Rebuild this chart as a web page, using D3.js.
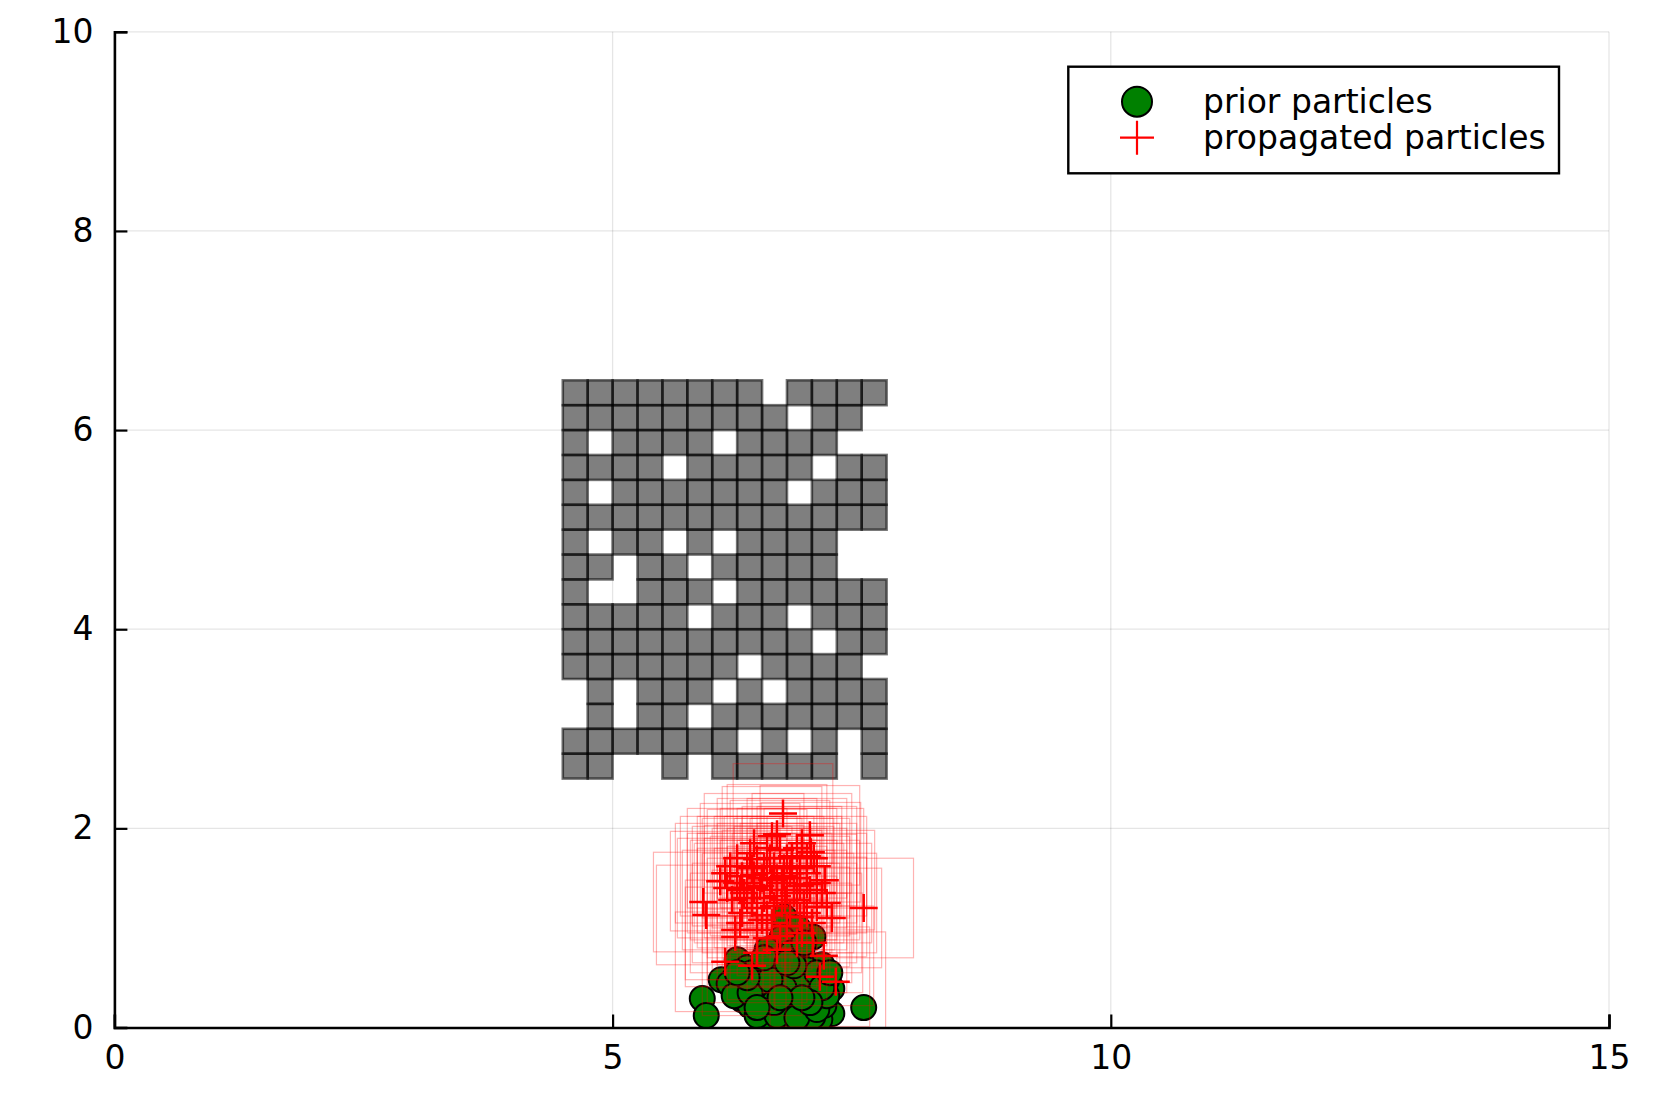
<!DOCTYPE html>
<html>
<head>
<meta charset="utf-8">
<script src="https://cdn.jsdelivr.net/npm/d3@7"></script>
<style>
  html, body { margin: 0; padding: 0; background: #fff; }
  svg { display: block; font-family: "DejaVu Sans", sans-serif; }
</style>
</head>
<body>
<svg id="chart" width="1661" height="1107"></svg>
<script>
// ---------- data ----------
const xTicks = [0, 5, 10, 15];
const yTicks = [0, 2, 4, 6, 8, 10];
const seriesNames = ["prior particles", "propagated particles"];

// obstacle occupancy rows, top (y=6.5) to bottom (y=2.5); columns start at x=4.5, cell size 0.25
const obstacleRows = [
  "1111111101111",
  "1111111110110",
  "1011110111100",
  "1111011111011",
  "1011111110111",
  "1111111111111",
  "1011010111100",
  "1101101111100",
  "1001110111111",
  "1111101110111",
  "1111111111011",
  "1111111011110",
  "0101110101111",
  "0101101111111",
  "1111111010101",
  "1100101111101"
];
const obstacleOrigin = [4.5, 6.5];
const obstacleCell = 0.25;

const priorX = [5.90,5.94,7.52,6.09,6.21,6.35,6.30,6.25,6.28,6.61,6.83,6.91,7.12,7.20,7.20,6.75,6.56,6.93,7.08,6.98,
                6.78,7.01,6.48,6.65,6.72,7.10,7.15,7.01,6.45,6.50,6.62,6.80,6.63,6.77,6.93,6.72,6.35,6.42,6.17,6.58,
                6.86,6.90,7.05,6.70,6.53,6.38,6.88,7.12,6.60,6.95,
                6.40,6.55,6.68,6.85,7.00,6.75,6.60,6.50,6.78,6.95,6.30,6.22,6.45,6.65,6.85,7.05,7.15,6.70,6.80,6.55,
                6.92,6.65,6.48,6.38,6.88,7.05,6.72,6.58,6.82,7.10,6.62,6.98,6.35,6.25,6.52,6.75,6.90,7.18,6.45,6.68];
const priorY = [0.29,0.12,0.20,0.48,0.48,0.45,0.28,0.68,0.31,0.44,0.29,0.56,0.48,0.14,0.39,0.04,0.13,0.14,0.08,0.61,
                0.85,0.91,0.61,0.71,1.11,0.63,0.48,0.11,0.32,0.16,0.55,0.48,0.77,0.69,0.37,0.32,0.60,0.47,0.44,0.21,
                1.00,0.76,0.30,0.18,0.40,0.22,0.22,0.22,0.05,0.45,
                0.55,0.62,0.45,0.38,0.42,0.55,0.35,0.25,0.25,0.58,0.40,0.32,0.12,0.12,0.10,0.18,0.32,0.90,0.75,0.78,
                0.85,0.58,0.45,0.35,0.50,0.55,0.40,0.48,0.62,0.40,0.25,0.25,0.50,0.55,0.70,0.65,0.30,0.55,0.20,0.30];

const propX = [6.71,7.52,5.91,5.94,6.65,6.98,6.85,6.45,6.25,6.08,6.13,6.28,6.58,6.78,7.13,7.05,6.73,6.55,6.88,6.45,
               6.23,6.13,6.65,7.08,7.24,6.45,7.01,6.23,6.42,6.99,6.95,6.88,6.35,6.50,6.62,6.70,6.82,6.92,7.00,6.60,
               6.40,6.30,6.75,6.55,6.85,7.10,6.35,6.20,6.68,6.90,6.52,6.78,7.05,6.42,6.60,6.95,6.30,6.72,
               6.40,6.55,6.65,6.80,6.95,7.05,6.48,6.58,6.68,6.90,6.35,6.45,6.62,6.75,6.85,6.98,7.15,6.25,6.18,6.52,
               6.72,6.80,6.60,6.38,6.28,6.55,6.75,6.95,7.20,6.50,6.65,6.88,7.02,6.42,6.70,6.32,6.15,6.85,7.12,6.40];
const propY = [2.15,1.20,1.26,1.13,1.94,1.93,1.80,1.69,1.70,1.47,1.55,1.38,1.38,1.55,1.48,1.21,1.28,1.13,1.11,0.98,
               0.98,0.66,0.78,0.51,0.46,0.75,0.85,0.91,1.53,1.76,1.44,1.60,1.45,1.50,1.62,1.45,1.35,1.25,1.05,1.05,
               1.25,1.15,1.70,1.80,1.50,1.35,1.62,1.28,0.92,0.95,1.30,1.15,1.62,1.40,1.48,1.72,1.52,1.60,
               1.60,1.55,1.50,1.62,1.55,1.45,1.42,1.70,1.78,1.85,1.30,1.20,1.22,1.38,1.28,1.38,1.25,1.45,1.62,1.62,
               1.52,1.72,1.92,1.75,1.05,0.90,1.02,1.15,1.10,1.08,1.32,1.42,1.70,1.85,1.25,1.35,1.40,0.85,0.72,0.62];
const boxHalf = 0.5;

// ---------- layout ----------
const L = 114.4, R = 1609, T = 31.8, B = 1027.5;
const x = d3.scaleLinear().domain([0, 15]).range([L, R]);
const y = d3.scaleLinear().domain([0, 10]).range([B, T]);
const svg = d3.select("#chart");

svg.append("defs").append("clipPath").attr("id", "plotclip")
  .append("rect").attr("x", L).attr("y", T).attr("width", R - L).attr("height", B - T);

// grid
const grid = svg.append("g").attr("stroke", "#000").attr("stroke-opacity", 0.1).attr("stroke-width", 1.3);
grid.selectAll(".gx").data(xTicks.filter(d => d > 0)).join("line")
  .attr("x1", d => x(d)).attr("x2", d => x(d)).attr("y1", T).attr("y2", B);
grid.selectAll(".gy").data(yTicks.filter(d => d > 0)).join("line")
  .attr("x1", L).attr("x2", R).attr("y1", d => y(d)).attr("y2", d => y(d));

// obstacles
const cells = [];
obstacleRows.forEach((row, r) => {
  row.split("").forEach((c, k) => {
    if (c === "1") cells.push({ x0: obstacleOrigin[0] + k * obstacleCell, y1: obstacleOrigin[1] - r * obstacleCell });
  });
});
const plot = svg.append("g").attr("clip-path", "url(#plotclip)");
plot.append("g").selectAll("rect").data(cells).join("rect")
  .attr("x", d => x(d.x0)).attr("y", d => y(d.y1))
  .attr("width", d => x(d.x0 + obstacleCell) - x(d.x0))
  .attr("height", d => y(d.y1 - obstacleCell) - y(d.y1))
  .attr("fill", "#000").attr("fill-opacity", 0.5)
  .attr("stroke", "#000").attr("stroke-opacity", 0.55).attr("stroke-width", 2.6);

// prior particles
const prior = priorX.map((v, i) => ({ x: v, y: priorY[i] }));
plot.append("g").selectAll("circle").data(prior).join("circle")
  .attr("cx", d => x(d.x)).attr("cy", d => y(d.y)).attr("r", 12.5)
  .attr("fill", "#008000").attr("stroke", "#000").attr("stroke-width", 2);

// propagated particles: boxes and crosses
const prop = propX.map((v, i) => ({ x: v, y: propY[i] }));
plot.append("g").selectAll("rect").data(prop).join("rect")
  .attr("x", d => x(d.x - boxHalf)).attr("y", d => y(d.y + boxHalf))
  .attr("width", d => x(d.x + boxHalf) - x(d.x - boxHalf))
  .attr("height", d => y(d.y - boxHalf) - y(d.y + boxHalf))
  .attr("fill", "none").attr("stroke", "#ff0000").attr("stroke-opacity", 0.3).attr("stroke-width", 1.2);
const crossArm = 14;
const cross = plot.append("g").attr("stroke", "#ff0000").attr("stroke-width", 2.5);
cross.selectAll("path").data(prop).join("path")
  .attr("d", d => `M${x(d.x) - crossArm},${y(d.y)}H${x(d.x) + crossArm}M${x(d.x)},${y(d.y) - crossArm}V${y(d.y) + crossArm}`);

// axes
const fs = 33;
const xAxis = svg.append("g").attr("transform", `translate(0,${B})`)
  .call(d3.axisBottom(x).tickValues(xTicks).tickFormat(d3.format("d")).tickSize(-13).tickPadding(18));
const yAxis = svg.append("g").attr("transform", `translate(${L},0)`)
  .call(d3.axisLeft(y).tickValues(yTicks).tickFormat(d3.format("d")).tickSize(-13).tickPadding(21));
[xAxis, yAxis].forEach(a => {
  a.select(".domain").attr("stroke", "#000").attr("stroke-width", 2.6);
  a.selectAll(".tick line").attr("stroke", "#000").attr("stroke-width", 2.2);
  a.selectAll(".tick text").attr("font-family", "DejaVu Sans").attr("font-size", fs).attr("fill", "#000");
});

// legend
const lg = svg.append("g");
lg.append("rect").attr("x", 1068.3).attr("y", 66.7).attr("width", 490.7).attr("height", 106.6)
  .attr("fill", "#fff").attr("stroke", "#000").attr("stroke-width", 2.4);
lg.append("circle").attr("cx", 1137).attr("cy", 101.7).attr("r", 15)
  .attr("fill", "#008000").attr("stroke", "#000").attr("stroke-width", 2);
lg.append("path").attr("d", "M1120,137.7H1154M1137,120.7V154.7").attr("stroke", "#ff0000").attr("stroke-width", 2.2);
lg.selectAll("text").data(seriesNames).join("text")
  .attr("x", 1203).attr("y", (d, i) => 112.5 + i * 36.5)
  .attr("font-family", "DejaVu Sans").attr("font-size", 33).attr("fill", "#000")
  .text(d => d);
</script>
</body>
</html>
